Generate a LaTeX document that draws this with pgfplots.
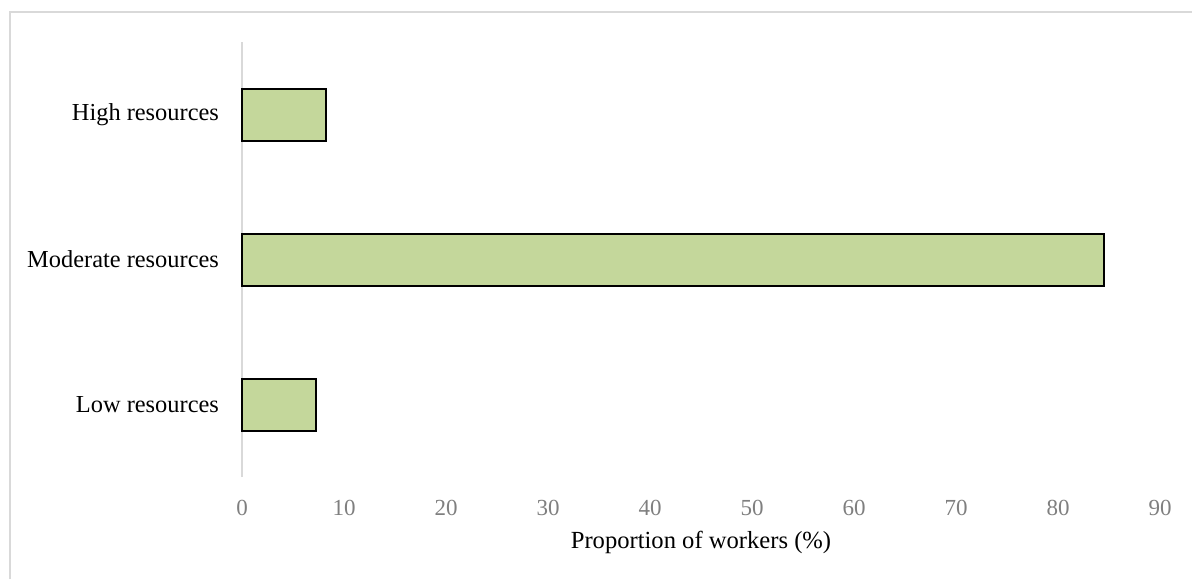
\documentclass[border=0pt]{standalone}
\usepackage{fontspec}
\setmainfont{Liberation Serif}
\usepackage{pgfplots}
\pgfplotsset{compat=1.18}
\definecolor{barfill}{HTML}{C4D79B}
\definecolor{framegray}{HTML}{D9D9D9}
\definecolor{tickgray}{HTML}{7F7F7F}
\begin{document}
\begin{tikzpicture}
% picture frame: 1192 x 579 px at 0.5pt per px
\useasboundingbox (0pt,0pt) rectangle (596pt,289.5pt);
\draw[framegray, line width=0.8pt] (5pt,0pt) -- (5pt,283.5pt) -- (596pt,283.5pt);
\begin{axis}[
    at={(121pt,51pt)}, anchor=south west,
    scale only axis,
    width=459pt, height=217.5pt,
    xbar, bar width=26pt,
    xmin=0, xmax=90,
    ymin=-0.5, ymax=2.5,
    xtick={0,10,...,90},
    ytick={0,1,2},
    yticklabels={Low resources, Moderate resources, High resources},
    axis lines*=left,
    x axis line style={draw=none},
    y axis line style={framegray, line width=0.8pt, -},
    major tick length=0pt,
    tick style={draw=none},
    xticklabel style={tickgray, yshift=-8pt, font=\fontsize{11.5}{13}\selectfont},
    yticklabel style={xshift=-8pt, black, font=\fontsize{12.2}{14}\selectfont},
    /pgf/number format/assume math mode=true,
    xlabel={Proportion of workers (\%)},
    xlabel style={font=\fontsize{12.3}{14}\selectfont, yshift=-1pt},
    clip=false,
]
    \addplot[fill=barfill, draw=black, line width=1pt]
        coordinates {(7.3,0) (84.5,1) (8.2,2)};
\end{axis}
\end{tikzpicture}
\end{document}
